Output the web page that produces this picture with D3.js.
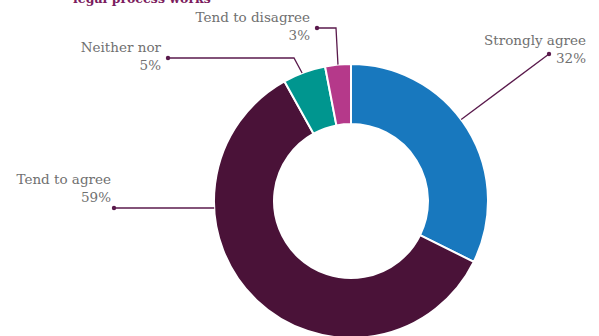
<!DOCTYPE html>
<html>
<head>
<meta charset="utf-8">
<script src="https://cdn.jsdelivr.net/npm/d3@7"></script>
<style>
  html, body { margin: 0; padding: 0; background: #fff; }
  svg { display: block; }
</style>
</head>
<body>
<svg id="chart" width="599" height="336"></svg>
<script>
// Survey responses, in drawing order (clockwise from 12 o'clock)
const categories = ["Strongly agree", "Tend to agree", "Neither nor", "Tend to disagree"];
const values = [32, 59, 5, 3];
const colors = ["#1878be", "#4a1238", "#00968f", "#b5398a"];
const titleText = "legal process works";

const svg = d3.select("#chart");
const cx = 351, cy = 201;
const rOuter = 137, rInner = 77;
const labelFont = "'DejaVu Serif', serif";

// heading above the chart, running off the top edge
svg.append("text")
  .attr("x", 73).attr("y", 2.5)
  .attr("font-family", labelFont)
  .attr("font-weight", "bold")
  .attr("font-size", 12.5)
  .attr("fill", "#7b1c5e")
  .text(titleText);

const pie = d3.pie().sort(null).value(d => d)(values);
const arc = d3.arc().innerRadius(rInner).outerRadius(rOuter);

const g = svg.append("g").attr("transform", `translate(${cx},${cy})`);
g.selectAll("path").data(pie).enter().append("path")
  .attr("d", arc)
  .attr("fill", (d, i) => colors[i])
  .attr("stroke", "#fff")
  .attr("stroke-width", 2)
  .attr("stroke-linejoin", "round");

// leader routing per slice: rim anchor (fraction of the slice's angle),
// optional elbow, end dot, and the right edge / baseline of its label
const leaders = [
  { t: 0.46, elbow: null, end: [549, 54], label: [586, 45] },
  { t: 0.50, elbow: null, end: [114, 208], label: [111, 184], horizontal: true },
  { t: 0.45, elbow: [294, 58], end: [168, 58], label: [161, 52] },
  { t: 0.50, elbow: [336, 28], end: [317, 28], label: [310, 22] }
];

const leaderColor = "#5a1a4c";
pie.forEach((d, i) => {
  const L = leaders[i];
  const a = d.startAngle + (d.endAngle - d.startAngle) * L.t;
  let sx = cx + Math.sin(a) * rOuter;
  let sy = cy - Math.cos(a) * rOuter;
  if (L.horizontal) {
    // horizontal leader meeting the rim at the dot's height
    const dy = L.end[1] - cy;
    sx = cx - Math.sqrt(rOuter * rOuter - dy * dy);
    sy = L.end[1];
  }
  const pts = [[sx, sy]];
  if (L.elbow) pts.push(L.elbow);
  pts.push(L.end);
  svg.append("path")
    .attr("d", d3.line()(pts))
    .attr("fill", "none")
    .attr("stroke", leaderColor)
    .attr("stroke-width", 1.3);
  svg.append("circle")
    .attr("cx", L.end[0]).attr("cy", L.end[1]).attr("r", 2.2)
    .attr("fill", leaderColor);

  const txt = svg.append("text")
    .attr("x", L.label[0]).attr("y", L.label[1])
    .attr("text-anchor", "end")
    .attr("font-family", labelFont)
    .attr("font-size", 13.5)
    .attr("fill", "#707070");
  txt.append("tspan").attr("x", L.label[0]).attr("dy", 0).text(categories[i]);
  txt.append("tspan").attr("x", L.label[0]).attr("dy", 18).text(values[i] + "%");
});
</script>
</body>
</html>
